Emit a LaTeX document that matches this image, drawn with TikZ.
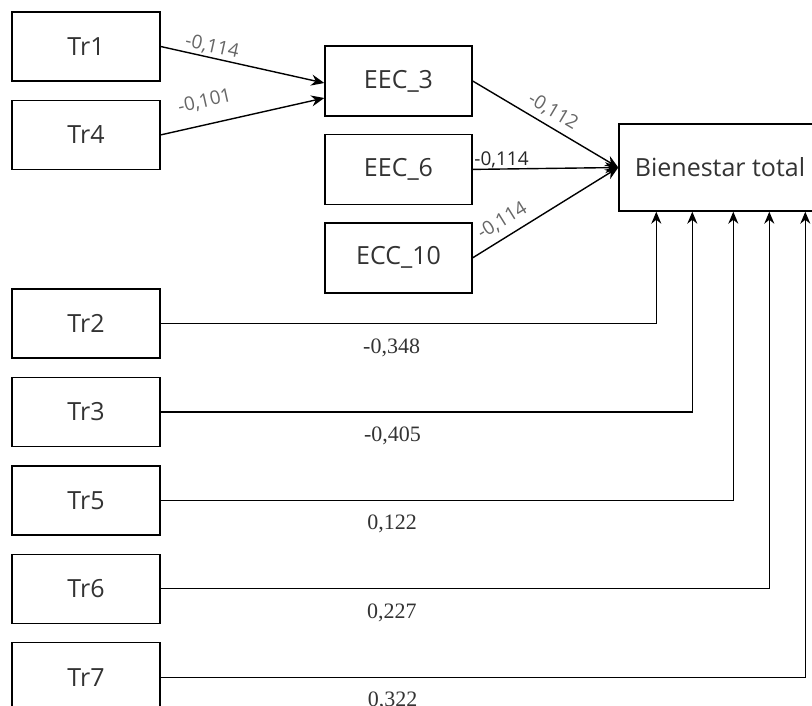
\documentclass[tikz,border=0pt]{standalone}
\usepackage{fontspec}
\setmainfont{Open Sans}
\newfontfamily\numfont{Liberation Serif}
\usetikzlibrary{positioning, arrows.meta}

\begin{document}
\begin{tikzpicture}[x=1pt, y=-1pt]
            \tikzstyle{box}=[draw, line width=1.4pt, minimum width=148pt, minimum height=69pt, inner sep=0pt, text=black!80, font=\fontsize{25}{30}\selectfont]
            \tikzstyle{arr}=[line width=1.4pt, -{Stealth[length=13pt, width=11pt]}]
            \tikzstyle{link}=[line width=1.2pt, -{Stealth[length=12pt, width=10pt]}]
            \tikzstyle{coef}=[font=\fontsize{19}{22}\selectfont, text=black!60, inner sep=2pt]
            \tikzstyle{lbl}=[font=\numfont\fontsize{22}{26}\selectfont, text=black!80, below=11pt]
            \useasboundingbox (0,0) rectangle (812,705);
            % left column
            \node[box] (tr1) at (86,46.5) {Tr1};
            \node[box, below=18pt of tr1] (tr4) {Tr4};
            \node[box] (tr2) at (86,323.5) {Tr2};
            \node[box, below=18pt of tr2] (tr3) {Tr3};
            \node[box, below=18pt of tr3] (tr5) {Tr5};
            \node[box, below=18pt of tr5] (tr6) {Tr6};
            \node[box, below=18pt of tr6] (tr7) {Tr7};
            % mediators
            \node[box, minimum width=147pt, minimum height=70pt] (eec3) at (398.5,81) {EEC\_3};
            \node[box, minimum width=147pt, minimum height=70pt, below=17pt of eec3] (eec6) {EEC\_6};
            \node[box, minimum width=147pt, minimum height=70pt, below=17pt of eec6] (ecc10) {ECC\_10};
            % outcome
            \node[box, minimum width=202pt, minimum height=87pt] (bien) at (720,167.5) {Bienestar total};
            \coordinate (in2) at ([xshift=38pt]bien.south west);
            \coordinate (in3) at ([xshift=74pt]bien.south west);
            \coordinate (in5) at ([xshift=115pt]bien.south west);
            \coordinate (in6) at ([xshift=151pt]bien.south west);
            \coordinate (in7) at ([xshift=187pt]bien.south west);
            % paths
            \draw[arr] (tr1.east) -- node[coef, sloped, above, pos=0.3] {-0,114} ([yshift=-2pt]eec3.west);
            \draw[arr] (tr4.east) -- node[coef, sloped, above=12pt, pos=0.3] {-0,101} ([yshift=-17pt]eec3.west);
            \draw[arr] (eec3.east) -- node[coef, sloped, above=4pt, pos=0.5] {-0,112} (bien.west);
            \draw[arr] (eec6.east) -- node[coef, text=black!85, above right, pos=0, inner sep=1pt] {-0,114} (bien.west);
            \draw[arr] (ecc10.east) -- node[coef, sloped, above=5pt, pos=0.26] {-0,114} (bien.west);
            \draw[link] (tr2.east) -| node[lbl, pos=0.233] {-0,348} (in2);
            \draw[link] (tr3.east) -| node[lbl, pos=0.218] {-0,405} (in3);
            \draw[link] (tr5.east) -| node[lbl, pos=0.202] {0,122} (in5);
            \draw[link] (tr6.east) -| node[lbl, pos=0.19] {0,227} (in6);
            \draw[link] (tr7.east) -| node[lbl, pos=0.18] {0,322} (in7);
\end{tikzpicture}
\end{document}
